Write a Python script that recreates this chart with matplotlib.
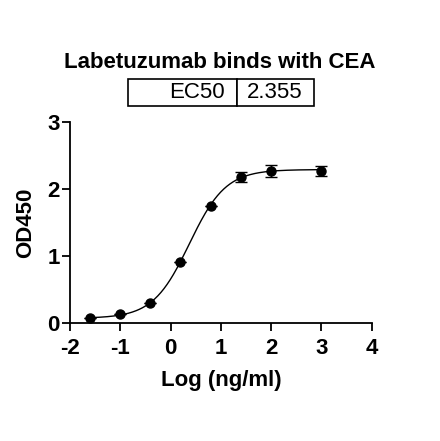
import matplotlib
matplotlib.use('Agg')
import matplotlib.pyplot as plt
import numpy as np

plt.rcParams['font.family'] = ['Liberation Sans', 'DejaVu Sans']
plt.rcParams['axes.unicode_minus'] = False

# data
log_conc = [-1.61, -1.01, -0.41, 0.19, 0.80, 1.40, 2.0, 3.0]
od450 = [0.075, 0.13, 0.30, 0.915, 1.75, 2.18, 2.27, 2.27]
od_err = [0.0, 0.0, 0.0, 0.0, 0.0, 0.07, 0.09, 0.07]

# 4PL fit parameters
bottom, top, log_ec50, hill = 0.07, 2.29, np.log10(2.355), 1.2
ec50_label = 'EC50'
ec50_value = '2.355'


def four_pl(x):
    return bottom + (top - bottom) / (1 + 10 ** ((log_ec50 - x) * hill))


fig = plt.figure(figsize=(4.4, 4.41), dpi=100)
ax = fig.add_axes([0.159, 0.2676, 0.686, 0.4558])

xs = np.linspace(min(log_conc), max(log_conc), 300)
ax.plot(xs, four_pl(xs), color='black', lw=1.0)
ax.errorbar(log_conc, od450, yerr=od_err, fmt='o', color='black', ms=6.5,
            elinewidth=1.0, capsize=4, capthick=1.0)

ax.set_xlim(-2, 4)
ax.set_ylim(0, 3)
ax.set_xticks(range(-2, 5))
ax.set_yticks([0, 1, 2, 3])
ax.spines['top'].set_visible(False)
ax.spines['right'].set_visible(False)
for s in ('left', 'bottom'):
    ax.spines[s].set_linewidth(1.3)
ax.tick_params(direction='out', length=5.5, width=1.3, labelsize=16, pad=2)
ax.tick_params(axis='x', pad=5)
for lbl in ax.get_xticklabels() + ax.get_yticklabels():
    lbl.set_fontweight('bold')

ax.set_xlabel('Log (ng/ml)', fontsize=16, fontweight='bold', labelpad=8)
ax.set_ylabel('OD450', fontsize=16, fontweight='bold', labelpad=8)

fig.text(0.5, 1 - 62 / 441, 'Labetuzumab binds with CEA', ha='center', va='center',
         fontsize=16, fontweight='bold')

# EC50 table
tab = ax.table(cellText=[[ec50_label, ec50_value]], cellLoc='right',
               colWidths=[109 / 302, 77 / 302],
               bbox=[(128 - 70) / 302, (323 - 106) / 201, 186 / 302, 27 / 201])
tab.auto_set_font_size(False)
for (r, c), cell in tab.get_celld().items():
    cell.set_fontsize(16)
    cell.set_linewidth(1.2)
    cell.set_clip_on(False)
    if c == 0:
        cell.PAD = 0.11
    else:
        cell.PAD = 0.13
        cell._loc = 'left'
        cell.get_text().set_ha('left')

fig.savefig('out.png', dpi=100)
